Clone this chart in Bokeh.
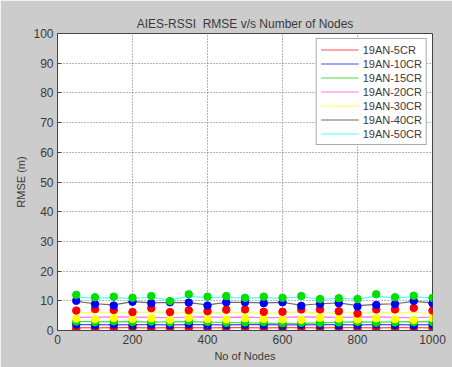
from bokeh.plotting import figure
from bokeh.embed import file_html
from bokeh.resources import INLINE
from bokeh.models import Range1d, FixedTicker, Legend, LegendItem

# ---- data ----
nodes = [50, 100, 150, 200, 250, 300, 350, 400, 450, 500,
         550, 600, 650, 700, 750, 800, 850, 900, 950, 1000]

series_names = ["19AN-5CR", "19AN-10CR", "19AN-15CR", "19AN-20CR",
                "19AN-30CR", "19AN-40CR", "19AN-50CR"]

# line values (RMSE, m)
line_5cr  = [1.0, 0.9, 1.0, 1.0, 0.9, 1.0, 1.0, 0.9, 1.0, 1.0, 0.9, 1.0, 1.0, 0.9, 1.0, 1.0, 0.9, 1.0, 1.0, 0.9]
line_10cr = [2.0, 2.0, 1.9, 2.0, 2.0, 1.9, 2.0, 2.0, 1.9, 2.0, 2.0, 1.9, 1.9, 2.0, 2.0, 1.9, 2.0, 2.0, 1.9, 2.0]
line_15cr = [3.0, 3.0, 2.9, 3.0, 2.8, 2.9, 3.0, 2.8, 2.7, 2.6, 2.5, 2.3, 2.4, 2.6, 2.8, 2.9, 2.8, 2.9, 3.0, 2.9]
line_20cr = [4.5, 4.4, 4.6, 4.5, 4.4, 4.3, 4.5, 4.6, 4.4, 4.5, 4.3, 4.4, 4.6, 4.5, 4.4, 4.5, 4.6, 4.4, 4.3, 4.5]
line_30cr = [6.0, 6.1, 5.9, 6.0, 6.2, 6.0, 5.9, 6.0, 6.1, 6.0, 5.9, 6.0, 6.1, 6.0, 5.9, 6.0, 6.1, 6.0, 6.0, 5.9]
line_40cr = [9.8, 9.0, 8.6, 9.7, 9.3, 9.5, 9.4, 8.6, 9.5, 9.5, 9.3, 9.5, 8.5, 9.0, 9.3, 8.4, 8.8, 9.0, 9.8, 9.3]
line_50cr = [11.3, 10.9, 11.1, 10.8, 11.2, 10.3, 11.5, 11.1, 11.2, 10.9, 11.1, 10.8, 11.3, 10.6, 10.8, 10.6, 11.6, 11.0, 11.3, 10.9]

# marker values (RMSE, m)
mark_5cr  = [0.7, 0.6, 0.7, 0.8, 0.6, 0.7, 0.8, 0.6, 0.7, 0.8, 0.6, 0.7, 0.8, 0.6, 0.7, 0.7, 0.8, 0.6, 0.7, 0.8]
mark_10cr = [2.0, 1.8, 2.0, 1.7, 1.9, 1.8, 2.1, 1.7, 1.8, 1.9, 1.8, 1.6, 1.9, 1.8, 1.7, 1.8, 2.0, 1.8, 1.7, 1.9]
mark_15cr = [3.0, 2.8, 3.1, 2.9, 3.0, 2.7, 3.2, 2.9, 2.6, 2.7, 2.8, 2.4, 2.6, 2.5, 2.7, 2.9, 2.6, 2.7, 2.8, 2.9]
mark_20cr = [4.0, 3.8, 4.2, 3.9, 4.1, 3.6, 4.3, 3.8, 3.7, 4.1, 3.9, 3.7, 3.6, 4.3, 4.0, 3.7, 4.1, 3.8, 3.6, 4.2]
mark_30cr = [6.7, 7.2, 6.9, 6.2, 7.5, 6.2, 6.8, 6.5, 7.0, 7.1, 6.3, 6.3, 7.1, 7.1, 6.5, 5.7, 7.1, 7.1, 7.6, 6.7]
mark_40cr = [10.0, 8.9, 8.4, 9.7, 9.2, 9.5, 9.4, 8.4, 9.5, 9.5, 9.2, 9.5, 8.3, 8.9, 9.2, 8.1, 8.6, 8.9, 10.0, 9.2]
mark_50cr = [12.0, 11.2, 11.4, 11.0, 11.6, 9.9, 12.2, 11.4, 11.6, 11.0, 11.4, 11.0, 11.6, 10.6, 10.9, 10.6, 12.2, 11.2, 11.7, 11.0]

x_ticks = [0, 200, 400, 600, 800, 1000]
y_ticks = [0, 10, 20, 30, 40, 50, 60, 70, 80, 90, 100]

line_vals = [line_5cr, line_10cr, line_15cr, line_20cr, line_30cr, line_40cr, line_50cr]
mark_vals = [mark_5cr, mark_10cr, mark_15cr, mark_20cr, mark_30cr, mark_40cr, mark_50cr]
line_colors = ["#ff5050", "#4848ff", "#40e040", "#ff70ff", "#ffff50", "#6a6a6a", "#50ffff"]
mark_colors = ["#ff0000", "#0000ff", "#00e000", "#ffff00", "#ff0000", "#0000ff", "#00e000"]

BG = "#cccccc"
FONT = "Liberation Sans"
TXT = "#3a3a3a"

p = figure(width=452, height=367, output_backend="svg", toolbar_location=None,
           x_range=Range1d(0, 1000), y_range=Range1d(0, 100),
           title="AIES-RSSI\u00a0 RMSE v/s Number of Nodes",
           min_border_left=57, min_border_right=20, min_border_top=33, min_border_bottom=37)

p.background_fill_color = "white"
p.border_fill_color = BG
p.outline_line_color = "#444444"
p.outline_line_width = 1

p.title.align = "center"
p.title.text_font = FONT
p.title.text_font_size = "12px"
p.title.text_font_style = "normal"
p.title.text_color = TXT
p.title.standoff = 6

for ax in (p.xaxis[0], p.yaxis[0]):
    ax.major_tick_in = 4
    ax.major_tick_out = 0
    ax.minor_tick_line_color = None
    ax.axis_line_color = "#444444"
    ax.major_tick_line_color = "#444444"
    ax.major_label_text_font = FONT
    ax.major_label_text_font_size = "12px"
    ax.major_label_text_color = TXT
    ax.axis_label_text_font = FONT
    ax.axis_label_text_font_size = "11px"
    ax.axis_label_text_font_style = "normal"
    ax.axis_label_text_color = TXT
    ax.major_label_standoff = 4
    ax.axis_label_standoff = 3

p.xaxis.ticker = FixedTicker(ticks=x_ticks)
p.yaxis.ticker = FixedTicker(ticks=y_ticks)
p.xaxis.axis_label = "No of Nodes"
p.yaxis.axis_label = "RMSE (m)"

p.grid.grid_line_color = "#606060"
p.grid.grid_line_dash = "1 2"
p.grid.grid_line_alpha = 0.9

items = []
for name, lv, lc in zip(series_names, line_vals, line_colors):
    r = p.line(nodes, lv, line_color=lc, line_width=1.2)
    items.append(LegendItem(label=name, renderers=[r]))

for mv, mc in zip(mark_vals, mark_colors):
    p.scatter(nodes, mv, size=7.5, fill_color=mc, line_color=mc)

legend = Legend(items=items, location="top_right")
legend.margin = 5
legend.padding = 4
legend.spacing = 1
legend.label_height = 13
legend.glyph_height = 13
legend.glyph_width = 38
legend.label_standoff = 4
legend.label_text_font = FONT
legend.label_text_font_size = "11px"
legend.label_text_color = TXT
legend.border_line_color = "#555555"
legend.background_fill_color = "white"
legend.background_fill_alpha = 1.0
p.add_layout(legend)

open("out.html", "w").write(file_html(p, INLINE))
